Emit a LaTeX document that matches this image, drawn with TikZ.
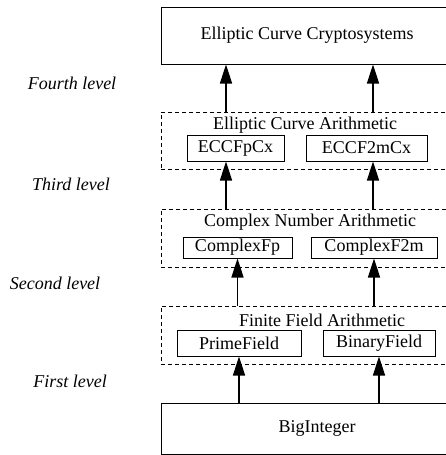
\documentclass[tikz,border=0pt]{standalone}
\usepackage{fontspec}
\setmainfont{Liberation Serif}
\usepackage{tikz}
\usetikzlibrary{arrows.meta,calc}

\begin{document}
\begin{tikzpicture}[x=1pt,y=-1pt,
  every node/.style={font=\fontsize{18}{21}\selectfont,inner sep=0pt},
  bigbox/.style={draw,line width=1pt,rectangle},
  layer/.style={draw,line width=0.8pt,dash pattern=on 4pt off 3pt,rectangle},
  unit/.style={draw,line width=1pt,rectangle},
  lvl/.style={font=\fontsize{18}{21}\selectfont\itshape},
  arr/.style={-{Triangle[length=19pt,width=12pt]},line width=1.6pt}]
  \useasboundingbox (0,0) rectangle (446,455);

  % Top application box
  \node[bigbox,minimum width=292pt,minimum height=57pt] (ecc) at (307,35.5) {Elliptic Curve Cryptosystems};

  % Third level: elliptic curve arithmetic
  \node[layer,minimum width=292pt,minimum height=57pt] (ecabox) at (307,140.5) {};
  \node (ecatitle) at (305,125) {Elliptic Curve Arithmetic};
  \node[unit,minimum width=97pt,minimum height=26pt] (ecfp) at (235.5,148) {ECCFpCx};
  \node[unit,minimum width=121pt,minimum height=26pt] (ecf2m) at (366.5,148) {ECCF2mCx};

  % Second level: complex number arithmetic
  \node[layer,minimum width=292pt,minimum height=58pt] (cnabox) at (307,238) {};
  \node (cnatitle) at (310,222) {Complex Number Arithmetic};
  \node[unit,minimum width=109pt,minimum height=21pt] (cfp) at (237.5,247.5) {ComplexFp};
  \node[unit,minimum width=126pt,minimum height=21pt] (cf2m) at (374,247.5) {ComplexF2m};

  % First level: finite field arithmetic
  \node[layer,minimum width=292pt,minimum height=58pt] (ffabox) at (307,335) {};
  \node (ffatitle) at (322,320) {Finite Field Arithmetic};
  \node[unit,minimum width=124pt,minimum height=26pt] (prime) at (239,343) {PrimeField};
  \node[unit,minimum width=112pt,minimum height=26pt] (binary) at (379,343) {BinaryField};

  % Base box
  \node[bigbox,minimum width=312pt,minimum height=51pt] (bigint) at (317,428.5) {BigInteger};

  % Level labels
  \node[lvl] (l4) at (72,83) {Fourth level};
  \node[lvl] (l3) at (71,184) {Third level};
  \node[lvl] (l2) at (55,283) {Second level};
  \node[lvl] (l1) at (70,381) {First level};

  % Arrow columns
  \coordinate (ca) at (226,0);
  \coordinate (cb) at (373,0);

  % Arrows
  \draw[arr] (ecabox.north -| ca) -- (ecc.south -| ca);
  \draw[arr] (ecabox.north -| cb) -- (ecc.south -| cb);
  \draw[arr] (cnabox.north -| ca) -- (ecfp.south -| ca);
  \draw[arr] (cnabox.north -| cb) -- (ecf2m.south -| cb);
  \draw[arr] (ffabox.north -| cfp) -- (cfp.south);
  \draw[arr] (ffabox.north -| cf2m) -- (cf2m.south);
  \draw[arr] (bigint.north -| prime) -- (prime.south);
  \draw[arr] (bigint.north -| binary) -- (binary.south);
\end{tikzpicture}
\end{document}
